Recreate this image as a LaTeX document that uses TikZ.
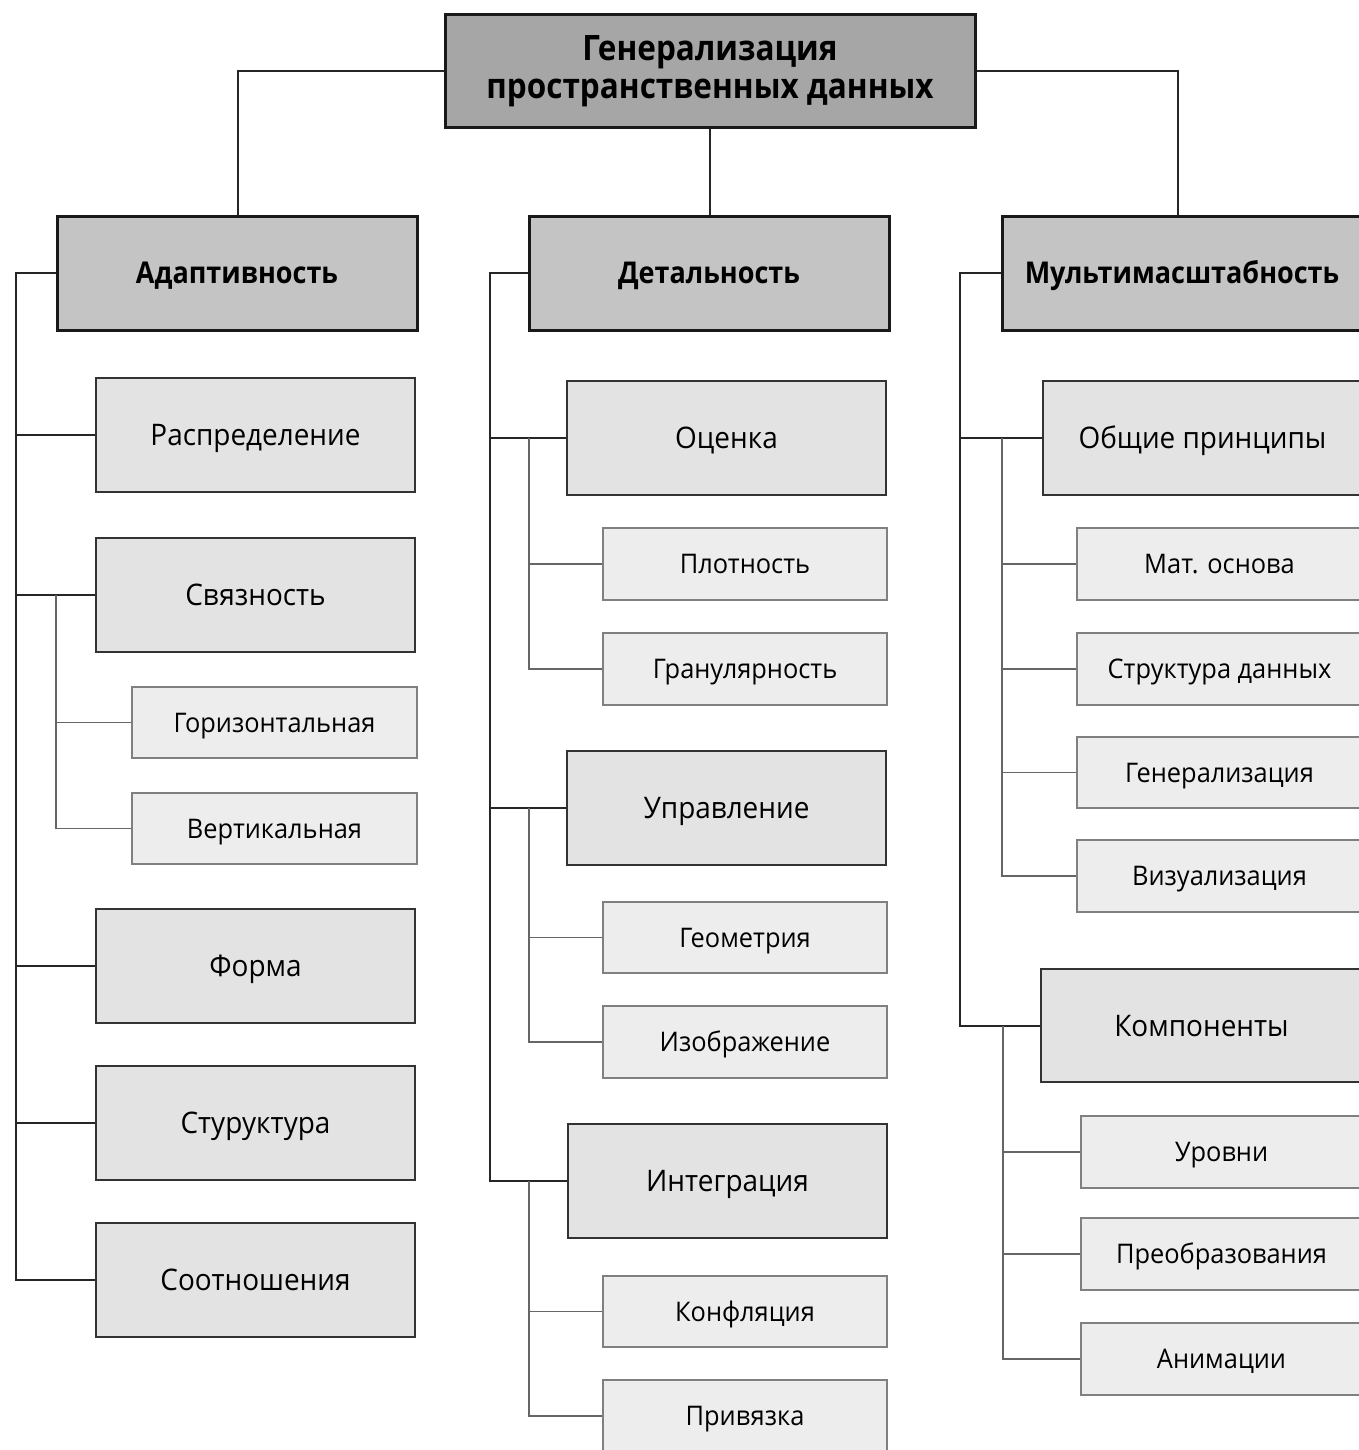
\documentclass[tikz,border=0pt]{standalone}
\usepackage{fontspec}
\setmainfont{Open Sans}[FakeStretch=0.94]
\newfontfamily\hdfont{Open Sans}[FakeStretch=0.9]
\begin{document}
\begin{tikzpicture}[x=1pt,y=-1pt,
  rootbox/.style={draw=black!90,line width=3pt,fill=black!35,align=center,inner sep=0pt,
    font=\hdfont\fontsize{35}{38}\selectfont\bfseries},
  lonebox/.style={draw=black!90,line width=3pt,fill=black!23,inner sep=0pt,minimum width=360pt,minimum height=114pt,
    text height=21.5pt,text depth=0pt,font=\hdfont\fontsize{30}{34}\selectfont\bfseries},
  ltwobox/.style={draw=black!80,line width=2pt,fill=black!11,inner sep=0pt,minimum width=319pt,minimum height=114pt,
    text height=21pt,text depth=0pt,font=\fontsize{29.7}{32}\selectfont},
  lthreebox/.style={draw=black!50,line width=1.5pt,fill=black!7,inner sep=0pt,minimum height=72pt,
    text height=19.3pt,text depth=0pt,font=\fontsize{27}{30}\selectfont},
  conn/.style={draw=black!85,line width=2pt},
  subconn/.style={draw=black!60,line width=1.5pt}]
\useasboundingbox (0,0) rectangle (1359,1450);
\fill[white] (0,0) rectangle (1359,1450);

% root and level 1
\node[rootbox,minimum width=530pt,minimum height=113pt] (root) at (710,71.5)
  {\raisebox{-2pt}{Генерализация}\\\raisebox{-2pt}{пространственных данных}};
\node[lonebox] (adapt) at (237,273) {Адаптивность};
\node[lonebox] (detal) at (709,273) {Детальность};
\node[lonebox] (multi) at (1182,273) {Мультимасштабность};

% left column
\node[ltwobox] (raspr) at (255.5,435) {Распределение};
\node[ltwobox] (svyaz) at (255.5,595) {Связность};
\node[lthreebox,minimum width=285pt,minimum height=71pt] (goriz) at (274.5,722.5) {Горизонтальная};
\node[lthreebox,minimum width=285pt,minimum height=71pt] (vert) at (274.5,828.5) {Вертикальная};
\node[ltwobox] (forma) at (255.5,966) {Форма};
\node[ltwobox] (strukt) at (255.5,1123) {Стуруктура};
\node[ltwobox] (sootn) at (255.5,1280) {Соотношения};

% middle column
\node[ltwobox] (ocenka) at (726.5,438) {Оценка};
\node[lthreebox,minimum width=284pt] (plotn) at (745,564) {Плотность};
\node[lthreebox,minimum width=284pt] (granul) at (745,669) {Гранулярность};
\node[ltwobox] (uprav) at (726.5,808) {Управление};
\node[lthreebox,minimum width=284pt,minimum height=71pt] (geom) at (745,937.5) {Геометрия};
\node[lthreebox,minimum width=284pt] (izobr) at (745,1042) {Изображение};
\node[ltwobox] (integr) at (727.5,1181) {Интеграция};
\node[lthreebox,minimum width=284pt,minimum height=71pt] (konfl) at (745,1311.5) {Конфляция};
\node[lthreebox,minimum width=284pt] (privyaz) at (745,1416) {Привязка};

% right column
\node[ltwobox] (obsch) at (1202.5,438) {Общие принципы};
\node[lthreebox,minimum width=285pt] (mat) at (1219.5,564) {Мат. основа};
\node[lthreebox,minimum width=285pt] (strd) at (1219.5,669) {Структура данных};
\node[lthreebox,minimum width=285pt,minimum height=71pt] (gen) at (1219.5,772.5) {Генерализация};
\node[lthreebox,minimum width=285pt] (vis) at (1219.5,876) {Визуализация};
\node[ltwobox,minimum width=321pt,minimum height=113pt] (komp) at (1201.5,1025.5) {Компоненты};
\node[lthreebox,minimum width=281pt] (urov) at (1221.5,1152) {Уровни};
\node[lthreebox,minimum width=281pt] (preobr) at (1221.5,1254) {Преобразования};
\node[lthreebox,minimum width=281pt] (anim) at (1221.5,1359) {Анимации};

% coordinates for trunks
\coordinate (tL) at (16,273);
\coordinate (tM) at (490,273);
\coordinate (tR) at (960,273);
\coordinate (sSv) at (56,595);
\coordinate (sOc) at (529,438);
\coordinate (sUp) at (529,808);
\coordinate (sIn) at (529,1181);
\coordinate (sOb) at (1002,438);
\coordinate (sKo) at (1003,1025.5);
\coordinate (rL) at (238,71.5);
\coordinate (rR) at (1178,71.5);

% root connectors
\draw[conn] (root.west) -- (rL) -- (rL |- adapt.north);
\draw[conn] (root.south) -- (root.south |- detal.north);
\draw[conn] (root.east) -- (rR) -- (rR |- multi.north);

% left trunk
\draw[conn] (adapt.west) -- (tL) -- (tL |- sootn.west) -- (sootn.west);
\foreach \n in {raspr,svyaz,forma,strukt} \draw[conn] (tL |- \n.west) -- (\n.west);
\draw[subconn] (sSv) |- (goriz.west);
\draw[subconn] (sSv) |- (vert.west);

% middle trunk
\draw[conn] (detal.west) -- (tM) -- (tM |- integr.west) -- (integr.west);
\foreach \n in {ocenka,uprav} \draw[conn] (tM |- \n.west) -- (\n.west);
\draw[subconn] (sOc) |- (plotn.west);
\draw[subconn] (sOc) |- (granul.west);
\draw[subconn] (sUp) |- (geom.west);
\draw[subconn] (sUp) |- (izobr.west);
\draw[subconn] (sIn) |- (konfl.west);
\draw[subconn] (sIn) |- (privyaz.west);

% right trunk
\draw[conn] (multi.west) -- (tR) -- (tR |- komp.west) -- (komp.west);
\draw[conn] (tR |- obsch.west) -- (obsch.west);
\foreach \n in {mat,strd,gen,vis} \draw[subconn] (sOb) |- (\n.west);
\foreach \n in {urov,preobr,anim} \draw[subconn] (sKo) |- (\n.west);
\end{tikzpicture}
\end{document}
